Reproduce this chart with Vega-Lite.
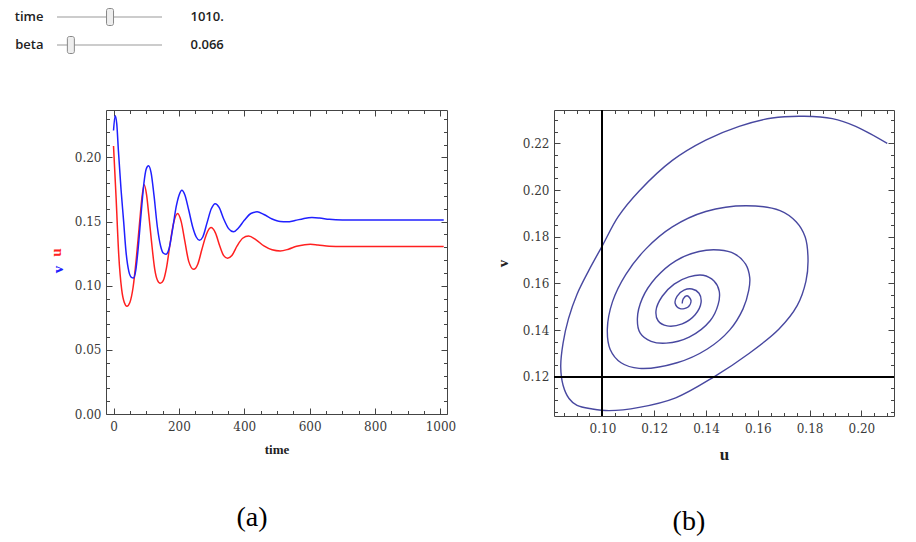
{
  "$schema": "https://vega.github.io/schema/vega-lite/v6.json",
  "background": "white",
  "padding": {"left": 14, "top": 7, "right": 5, "bottom": 0},
  "config": {
    "view": {"stroke": "#444", "strokeWidth": 1}
  },
  "datasets": {
    "sliders": [
      {"name": "time", "value": 1010, "min": 0, "max": 2000, "label": "1010."},
      {"name": "beta", "value": 0.066, "min": 0, "max": 0.5, "label": "0.066"}
    ],
    "ts": [
      {"t": 0, "series": "u", "val": 0.209}, {"t": 8, "series": "u", "val": 0.168}, {"t": 16, "series": "u", "val": 0.124},
      {"t": 25, "series": "u", "val": 0.097}, {"t": 33, "series": "u", "val": 0.087}, {"t": 41, "series": "u", "val": 0.0841},
      {"t": 50, "series": "u", "val": 0.087}, {"t": 60, "series": "u", "val": 0.099}, {"t": 70, "series": "u", "val": 0.122},
      {"t": 80, "series": "u", "val": 0.150}, {"t": 87, "series": "u", "val": 0.169}, {"t": 94, "series": "u", "val": 0.1787},
      {"t": 101, "series": "u", "val": 0.171}, {"t": 108, "series": "u", "val": 0.155}, {"t": 116, "series": "u", "val": 0.135},
      {"t": 126, "series": "u", "val": 0.113}, {"t": 134, "series": "u", "val": 0.1045}, {"t": 143, "series": "u", "val": 0.1019},
      {"t": 152, "series": "u", "val": 0.104}, {"t": 162, "series": "u", "val": 0.114}, {"t": 172, "series": "u", "val": 0.131},
      {"t": 183, "series": "u", "val": 0.148}, {"t": 196, "series": "u", "val": 0.1563}, {"t": 207, "series": "u", "val": 0.150},
      {"t": 218, "series": "u", "val": 0.135}, {"t": 230, "series": "u", "val": 0.119}, {"t": 245, "series": "u", "val": 0.1128},
      {"t": 258, "series": "u", "val": 0.117}, {"t": 270, "series": "u", "val": 0.128}, {"t": 284, "series": "u", "val": 0.140},
      {"t": 298, "series": "u", "val": 0.1453}, {"t": 312, "series": "u", "val": 0.141}, {"t": 325, "series": "u", "val": 0.131},
      {"t": 337, "series": "u", "val": 0.1235}, {"t": 349, "series": "u", "val": 0.1214}, {"t": 362, "series": "u", "val": 0.1235},
      {"t": 378, "series": "u", "val": 0.131}, {"t": 395, "series": "u", "val": 0.137}, {"t": 413, "series": "u", "val": 0.1388},
      {"t": 435, "series": "u", "val": 0.136}, {"t": 460, "series": "u", "val": 0.131}, {"t": 485, "series": "u", "val": 0.128},
      {"t": 510, "series": "u", "val": 0.1271}, {"t": 535, "series": "u", "val": 0.1285}, {"t": 560, "series": "u", "val": 0.1308},
      {"t": 585, "series": "u", "val": 0.1320}, {"t": 602, "series": "u", "val": 0.1323}, {"t": 625, "series": "u", "val": 0.1318},
      {"t": 660, "series": "u", "val": 0.1308}, {"t": 700, "series": "u", "val": 0.1305}, {"t": 800, "series": "u", "val": 0.1305},
      {"t": 1010, "series": "u", "val": 0.1305},
      {"t": 0, "series": "v", "val": 0.221}, {"t": 5, "series": "v", "val": 0.2326}, {"t": 10, "series": "v", "val": 0.226},
      {"t": 15, "series": "v", "val": 0.205}, {"t": 23, "series": "v", "val": 0.175}, {"t": 31, "series": "v", "val": 0.150},
      {"t": 38, "series": "v", "val": 0.127}, {"t": 47, "series": "v", "val": 0.111}, {"t": 55, "series": "v", "val": 0.1065},
      {"t": 61, "series": "v", "val": 0.106}, {"t": 68, "series": "v", "val": 0.112}, {"t": 75, "series": "v", "val": 0.128},
      {"t": 84, "series": "v", "val": 0.155}, {"t": 93, "series": "v", "val": 0.180}, {"t": 100, "series": "v", "val": 0.191},
      {"t": 107, "series": "v", "val": 0.1935}, {"t": 115, "series": "v", "val": 0.188}, {"t": 124, "series": "v", "val": 0.170},
      {"t": 134, "series": "v", "val": 0.146}, {"t": 144, "series": "v", "val": 0.131}, {"t": 152, "series": "v", "val": 0.1255},
      {"t": 160, "series": "v", "val": 0.1245}, {"t": 170, "series": "v", "val": 0.129}, {"t": 180, "series": "v", "val": 0.143},
      {"t": 192, "series": "v", "val": 0.162}, {"t": 201, "series": "v", "val": 0.171}, {"t": 209, "series": "v", "val": 0.1745},
      {"t": 218, "series": "v", "val": 0.171}, {"t": 230, "series": "v", "val": 0.159}, {"t": 243, "series": "v", "val": 0.145},
      {"t": 253, "series": "v", "val": 0.138}, {"t": 263, "series": "v", "val": 0.1355}, {"t": 273, "series": "v", "val": 0.138},
      {"t": 286, "series": "v", "val": 0.149}, {"t": 299, "series": "v", "val": 0.160}, {"t": 311, "series": "v", "val": 0.164},
      {"t": 323, "series": "v", "val": 0.161}, {"t": 337, "series": "v", "val": 0.152}, {"t": 352, "series": "v", "val": 0.1445},
      {"t": 367, "series": "v", "val": 0.142}, {"t": 382, "series": "v", "val": 0.145}, {"t": 400, "series": "v", "val": 0.151},
      {"t": 420, "series": "v", "val": 0.1563}, {"t": 439, "series": "v", "val": 0.1576}, {"t": 460, "series": "v", "val": 0.1555},
      {"t": 485, "series": "v", "val": 0.152}, {"t": 510, "series": "v", "val": 0.1500}, {"t": 530, "series": "v", "val": 0.1498},
      {"t": 555, "series": "v", "val": 0.1508}, {"t": 580, "series": "v", "val": 0.1523}, {"t": 607, "series": "v", "val": 0.1532},
      {"t": 630, "series": "v", "val": 0.1528}, {"t": 660, "series": "v", "val": 0.1518}, {"t": 700, "series": "v", "val": 0.1513},
      {"t": 800, "series": "v", "val": 0.1512}, {"t": 1010, "series": "v", "val": 0.1512}
    ],
    "phase": [
      {"i": 1, "u": 0.2100, "v": 0.2200}, {"i": 2, "u": 0.1978, "v": 0.2273}, {"i": 3, "u": 0.1888, "v": 0.2306},
      {"i": 4, "u": 0.1779, "v": 0.2316}, {"i": 5, "u": 0.1656, "v": 0.2309}, {"i": 6, "u": 0.1528, "v": 0.2273},
      {"i": 7, "u": 0.1399, "v": 0.2214}, {"i": 8, "u": 0.1270, "v": 0.2127}, {"i": 9, "u": 0.1142, "v": 0.1996},
      {"i": 10, "u": 0.1061, "v": 0.1886}, {"i": 11, "u": 0.1000, "v": 0.1762}, {"i": 12, "u": 0.0949, "v": 0.1659},
      {"i": 13, "u": 0.0902, "v": 0.1554}, {"i": 14, "u": 0.0869, "v": 0.1449}, {"i": 15, "u": 0.0848, "v": 0.1344},
      {"i": 16, "u": 0.0839, "v": 0.1244}, {"i": 17, "u": 0.0848, "v": 0.1164}, {"i": 18, "u": 0.0871, "v": 0.1107},
      {"i": 19, "u": 0.0902, "v": 0.1077}, {"i": 20, "u": 0.0961, "v": 0.1062}, {"i": 21, "u": 0.1026, "v": 0.1055},
      {"i": 22, "u": 0.1142, "v": 0.1069}, {"i": 23, "u": 0.1283, "v": 0.1110}, {"i": 24, "u": 0.1431, "v": 0.1200},
      {"i": 25, "u": 0.1566, "v": 0.1300}, {"i": 26, "u": 0.1682, "v": 0.1405}, {"i": 27, "u": 0.1752, "v": 0.1505},
      {"i": 28, "u": 0.1786, "v": 0.1610}, {"i": 29, "u": 0.1794, "v": 0.1702}, {"i": 30, "u": 0.1783, "v": 0.1799},
      {"i": 31, "u": 0.1748, "v": 0.1864}, {"i": 32, "u": 0.1686, "v": 0.1912}, {"i": 33, "u": 0.1554, "v": 0.1933},
      {"i": 34, "u": 0.1399, "v": 0.1908}, {"i": 35, "u": 0.1270, "v": 0.1842}, {"i": 36, "u": 0.1168, "v": 0.1748},
      {"i": 37, "u": 0.1090, "v": 0.1638}, {"i": 38, "u": 0.1039, "v": 0.1522}, {"i": 39, "u": 0.1019, "v": 0.1405},
      {"i": 40, "u": 0.1030, "v": 0.1317}, {"i": 41, "u": 0.1072, "v": 0.1260}, {"i": 42, "u": 0.1142, "v": 0.1236},
      {"i": 43, "u": 0.1288, "v": 0.1260}, {"i": 44, "u": 0.1405, "v": 0.1319}, {"i": 45, "u": 0.1492, "v": 0.1401},
      {"i": 46, "u": 0.1543, "v": 0.1491}, {"i": 47, "u": 0.1565, "v": 0.1570}, {"i": 48, "u": 0.1569, "v": 0.1624},
      {"i": 49, "u": 0.1553, "v": 0.1683}, {"i": 50, "u": 0.1510, "v": 0.1727}, {"i": 51, "u": 0.1451, "v": 0.1743},
      {"i": 52, "u": 0.1373, "v": 0.1737}, {"i": 53, "u": 0.1283, "v": 0.1697}, {"i": 54, "u": 0.1206, "v": 0.1624},
      {"i": 55, "u": 0.1154, "v": 0.1536}, {"i": 56, "u": 0.1135, "v": 0.1449}, {"i": 57, "u": 0.1146, "v": 0.1387},
      {"i": 58, "u": 0.1188, "v": 0.1352}, {"i": 59, "u": 0.1246, "v": 0.1344}, {"i": 60, "u": 0.1335, "v": 0.1370},
      {"i": 61, "u": 0.1416, "v": 0.1440}, {"i": 62, "u": 0.1447, "v": 0.1510}, {"i": 63, "u": 0.1451, "v": 0.1567},
      {"i": 64, "u": 0.1431, "v": 0.1610}, {"i": 65, "u": 0.1389, "v": 0.1635}, {"i": 66, "u": 0.1334, "v": 0.1628},
      {"i": 67, "u": 0.1277, "v": 0.1597}, {"i": 68, "u": 0.1231, "v": 0.1545}, {"i": 69, "u": 0.1207, "v": 0.1484},
      {"i": 70, "u": 0.1215, "v": 0.1440}, {"i": 71, "u": 0.1250, "v": 0.1418}, {"i": 72, "u": 0.1308, "v": 0.1427},
      {"i": 73, "u": 0.1358, "v": 0.1466}, {"i": 74, "u": 0.1381, "v": 0.1519}, {"i": 75, "u": 0.1373, "v": 0.1558},
      {"i": 76, "u": 0.1346, "v": 0.1576}, {"i": 77, "u": 0.1315, "v": 0.1571}, {"i": 78, "u": 0.1288, "v": 0.1545},
      {"i": 79, "u": 0.1281, "v": 0.1514}, {"i": 80, "u": 0.1300, "v": 0.1492}, {"i": 81, "u": 0.1331, "v": 0.1499},
      {"i": 82, "u": 0.1342, "v": 0.1527}, {"i": 83, "u": 0.1327, "v": 0.1547}, {"i": 84, "u": 0.1312, "v": 0.1534},
      {"i": 85, "u": 0.1308, "v": 0.1514}
    ]
  },
  "spacing": 54,
  "vconcat": [
    {
      "spacing": 8,
      "vconcat": [
        {
          "width": 56, "height": 20,
          "view": {"stroke": null},
          "data": {"name": "sliders"},
          "transform": [{"filter": "datum.name === 'time'"}],
          "layer": [
            {
              "mark": {"type": "rule", "color": "#999", "strokeWidth": 1},
              "encoding": {
                "x": {"field": "min", "type": "quantitative", "scale": {"domain": [0, 2000], "range": [-49, 56], "nice": false, "zero": false}, "axis": null},
                "x2": {"field": "max"},
                "y": {"field": "name", "type": "nominal", "axis": {"orient": "left", "title": null, "domain": false, "ticks": false, "labelPadding": 63, "labelFont": "Open Sans", "labelFontSize": 13, "labelFontWeight": 600, "labelColor": "#222"}}
              }
            },
            {
              "mark": {"type": "tick", "orient": "vertical", "size": 17, "thickness": 7, "color": "#eeeeee", "stroke": "#888", "strokeWidth": 1, "cornerRadius": 2, "opacity": 1},
              "encoding": {
                "x": {"field": "value", "type": "quantitative"},
                "y": {"field": "label", "type": "nominal", "axis": {"orient": "right", "title": null, "domain": false, "ticks": false, "labelPadding": 28, "labelFont": "Open Sans", "labelFontSize": 13, "labelFontWeight": 600, "labelColor": "#222"}}
              }
            }
          ],
          "resolve": {"scale": {"y": "independent"}, "axis": {"y": "independent"}}
        },
        {
          "width": 56, "height": 20,
          "view": {"stroke": null},
          "data": {"name": "sliders"},
          "transform": [{"filter": "datum.name === 'beta'"}],
          "layer": [
            {
              "mark": {"type": "rule", "color": "#999", "strokeWidth": 1},
              "encoding": {
                "x": {"field": "min", "type": "quantitative", "scale": {"domain": [0, 0.5], "range": [-49, 56], "nice": false, "zero": false}, "axis": null},
                "x2": {"field": "max"},
                "y": {"field": "name", "type": "nominal", "axis": {"orient": "left", "title": null, "domain": false, "ticks": false, "labelPadding": 63, "labelFont": "Open Sans", "labelFontSize": 13, "labelFontWeight": 600, "labelColor": "#222"}}
              }
            },
            {
              "mark": {"type": "tick", "orient": "vertical", "size": 17, "thickness": 7, "color": "#eeeeee", "stroke": "#888", "strokeWidth": 1, "cornerRadius": 2, "opacity": 1},
              "encoding": {
                "x": {"field": "value", "type": "quantitative"},
                "y": {"field": "label", "type": "nominal", "axis": {"orient": "right", "title": null, "domain": false, "ticks": false, "labelPadding": 28, "labelFont": "Open Sans", "labelFontSize": 13, "labelFontWeight": 600, "labelColor": "#222"}}
              }
            }
          ],
          "resolve": {"scale": {"y": "independent"}, "axis": {"y": "independent"}}
        }
      ]
    },
    {
      "spacing": 37,
      "hconcat": [
        {
          "width": 341, "height": 304,
          "title": {"text": "(a)", "orient": "bottom", "frame": "bounds", "anchor": "middle", "offset": 47, "fontSize": 28, "font": "Liberation Serif", "fontWeight": "normal", "color": "#000"},
          "data": {"name": "ts"},
          "layer": [
            {
              "transform": [{"filter": "datum.series === 'u'"}],
              "mark": {"type": "line", "color": "#ff2020", "strokeWidth": 1.5, "interpolate": "monotone", "clip": true},
              "encoding": {
                "x": {"field": "t", "type": "quantitative", "scale": {"domain": [-23, 1020], "nice": false, "zero": false},
                  "axis": {"orient": "bottom", "values": [0, 50, 100, 150, 200, 250, 300, 350, 400, 450, 500, 550, 600, 650, 700, 750, 800, 850, 900, 950, 1000],
                    "labelExpr": "datum.value % 200 === 0 ? format(datum.value, 'd') : ''",
                    "tickSize": {"condition": {"test": "datum.value % 200 === 0", "value": -6}, "value": -3.5},
                    "tickColor": "#444", "domain": false, "grid": false, "labelPadding": 13, "labelFont": "DejaVu Serif", "labelFontSize": 12, "labelColor": "#3a3a3a", "labelFlush": false, "labelOverlap": false,
                    "title": "time", "titleFont": "Liberation Serif", "titleFontSize": 13, "titleFontWeight": "bold", "titleColor": "#222", "titlePadding": 9}},
                "y": {"field": "val", "type": "quantitative", "scale": {"domain": [0, 0.237], "nice": false, "zero": false},
                  "axis": {"orient": "left", "values": [0, 0.01, 0.02, 0.03, 0.04, 0.05, 0.06, 0.07, 0.08, 0.09, 0.1, 0.11, 0.12, 0.13, 0.14, 0.15, 0.16, 0.17, 0.18, 0.19, 0.2, 0.21, 0.22, 0.23],
                    "labelExpr": "abs(datum.value * 20 - round(datum.value * 20)) < 0.001 ? format(datum.value, '.2f') : ''",
                    "tickSize": {"condition": {"test": "abs(datum.value * 20 - round(datum.value * 20)) < 0.001", "value": -6}, "value": -3.5},
                    "tickColor": "#444", "domain": false, "grid": false, "labelPadding": 11, "labelFont": "DejaVu Serif", "labelFontSize": 12, "labelColor": "#3a3a3a", "labelOverlap": false,
                    "title": "u", "titleColor": "#ff2020", "titleFont": "Liberation Serif", "titleFontSize": 15, "titleFontWeight": "bold", "titleY": 142, "titlePadding": 11}}
              }
            },
            {
              "transform": [{"filter": "datum.series === 'v'"}],
              "mark": {"type": "line", "color": "#2020ff", "strokeWidth": 1.5, "interpolate": "monotone", "clip": true},
              "encoding": {
                "x": {"field": "t", "type": "quantitative",
                  "axis": {"orient": "top", "values": [0, 50, 100, 150, 200, 250, 300, 350, 400, 450, 500, 550, 600, 650, 700, 750, 800, 850, 900, 950, 1000],
                    "labels": false, "title": null, "domain": false, "grid": false, "tickColor": "#444",
                    "tickSize": {"condition": {"test": "datum.value % 200 === 0", "value": -6}, "value": -3.5}}},
                "y": {"field": "val", "type": "quantitative",
                  "axis": {"orient": "left", "labels": false, "ticks": false, "domain": false, "grid": false,
                    "title": "v", "titleColor": "#2020ff", "titleFont": "Liberation Serif", "titleFontSize": 15, "titleFontWeight": "bold", "titleY": 159, "titlePadding": 41}}
              }
            },
            {
              "transform": [{"filter": "datum.series === 'v'"}],
              "mark": {"type": "line", "opacity": 0},
              "encoding": {
                "x": {"field": "t", "type": "quantitative", "axis": null},
                "y": {"field": "val", "type": "quantitative",
                  "axis": {"orient": "right", "values": [0, 0.01, 0.02, 0.03, 0.04, 0.05, 0.06, 0.07, 0.08, 0.09, 0.1, 0.11, 0.12, 0.13, 0.14, 0.15, 0.16, 0.17, 0.18, 0.19, 0.2, 0.21, 0.22, 0.23],
                    "labels": false, "title": null, "domain": false, "grid": false, "tickColor": "#444",
                    "tickSize": {"condition": {"test": "abs(datum.value * 20 - round(datum.value * 20)) < 0.001", "value": -6}, "value": -3.5}}}
              }
            }
          ],
          "resolve": {"axis": {"x": "independent", "y": "independent"}}
        },
        {
          "width": 340, "height": 306,
          "title": {"text": "(b)", "orient": "bottom", "frame": "bounds", "anchor": "middle", "dx": -6, "offset": 45, "fontSize": 28, "font": "Liberation Serif", "fontWeight": "normal", "color": "#000"},
          "data": {"name": "phase"},
          "layer": [
            {
              "mark": {"type": "line", "color": "#4848a0", "strokeWidth": 1.4, "interpolate": "catmull-rom", "clip": true},
              "encoding": {
                "order": {"field": "i", "type": "quantitative"},
                "x": {"field": "u", "type": "quantitative", "scale": {"domain": [0.0813, 0.2126], "nice": false, "zero": false},
                  "axis": {"orient": "bottom", "values": [0.085, 0.09, 0.095, 0.1, 0.105, 0.11, 0.115, 0.12, 0.125, 0.13, 0.135, 0.14, 0.145, 0.15, 0.155, 0.16, 0.165, 0.17, 0.175, 0.18, 0.185, 0.19, 0.195, 0.2, 0.205, 0.21],
                    "labelExpr": "abs(datum.value * 50 - round(datum.value * 50)) < 0.001 ? format(datum.value, '.2f') : ''",
                    "tickSize": {"condition": {"test": "abs(datum.value * 50 - round(datum.value * 50)) < 0.001", "value": -6}, "value": -3.5},
                    "tickColor": "#444", "domain": false, "grid": false, "labelPadding": 13, "labelFont": "DejaVu Serif", "labelFontSize": 12, "labelColor": "#3a3a3a", "labelFlush": false, "labelOverlap": false,
                    "title": "u", "titleFont": "Liberation Serif", "titleFontSize": 17, "titleFontWeight": "bold", "titleColor": "#222", "titlePadding": 10}},
                "y": {"field": "v", "type": "quantitative", "scale": {"domain": [0.1032, 0.2343], "nice": false, "zero": false},
                  "axis": {"orient": "left", "values": [0.105, 0.11, 0.115, 0.12, 0.125, 0.13, 0.135, 0.14, 0.145, 0.15, 0.155, 0.16, 0.165, 0.17, 0.175, 0.18, 0.185, 0.19, 0.195, 0.2, 0.205, 0.21, 0.215, 0.22, 0.225, 0.23],
                    "labelExpr": "abs(datum.value * 50 - round(datum.value * 50)) < 0.001 ? format(datum.value, '.2f') : ''",
                    "tickSize": {"condition": {"test": "abs(datum.value * 50 - round(datum.value * 50)) < 0.001", "value": -6}, "value": -3.5},
                    "tickColor": "#444", "domain": false, "grid": false, "labelPadding": 11, "labelFont": "DejaVu Serif", "labelFontSize": 12, "labelColor": "#3a3a3a", "labelOverlap": false,
                    "title": "v", "titleFont": "Liberation Serif", "titleFontSize": 15, "titleFontWeight": "bold", "titleColor": "#222", "titlePadding": 12}}
              }
            },
            {
              "mark": {"type": "rule", "color": "#000", "strokeWidth": 1},
              "encoding": {
                "x": {"datum": 0.1, "type": "quantitative",
                  "axis": {"orient": "top", "values": [0.085, 0.09, 0.095, 0.1, 0.105, 0.11, 0.115, 0.12, 0.125, 0.13, 0.135, 0.14, 0.145, 0.15, 0.155, 0.16, 0.165, 0.17, 0.175, 0.18, 0.185, 0.19, 0.195, 0.2, 0.205, 0.21],
                    "labels": false, "title": null, "domain": false, "grid": false, "tickColor": "#444",
                    "tickSize": {"condition": {"test": "abs(datum.value * 50 - round(datum.value * 50)) < 0.001", "value": -6}, "value": -3.5}}}
              }
            },
            {
              "mark": {"type": "rule", "color": "#000", "strokeWidth": 1},
              "encoding": {
                "y": {"datum": 0.12, "type": "quantitative",
                  "axis": {"orient": "right", "values": [0.105, 0.11, 0.115, 0.12, 0.125, 0.13, 0.135, 0.14, 0.145, 0.15, 0.155, 0.16, 0.165, 0.17, 0.175, 0.18, 0.185, 0.19, 0.195, 0.2, 0.205, 0.21, 0.215, 0.22, 0.225, 0.23],
                    "labels": false, "title": null, "domain": false, "grid": false, "tickColor": "#444",
                    "tickSize": {"condition": {"test": "abs(datum.value * 50 - round(datum.value * 50)) < 0.001", "value": -6}, "value": -3.5}}}
              }
            }
          ],
          "resolve": {"axis": {"x": "independent", "y": "independent"}}
        }
      ]
    }
  ]
}
